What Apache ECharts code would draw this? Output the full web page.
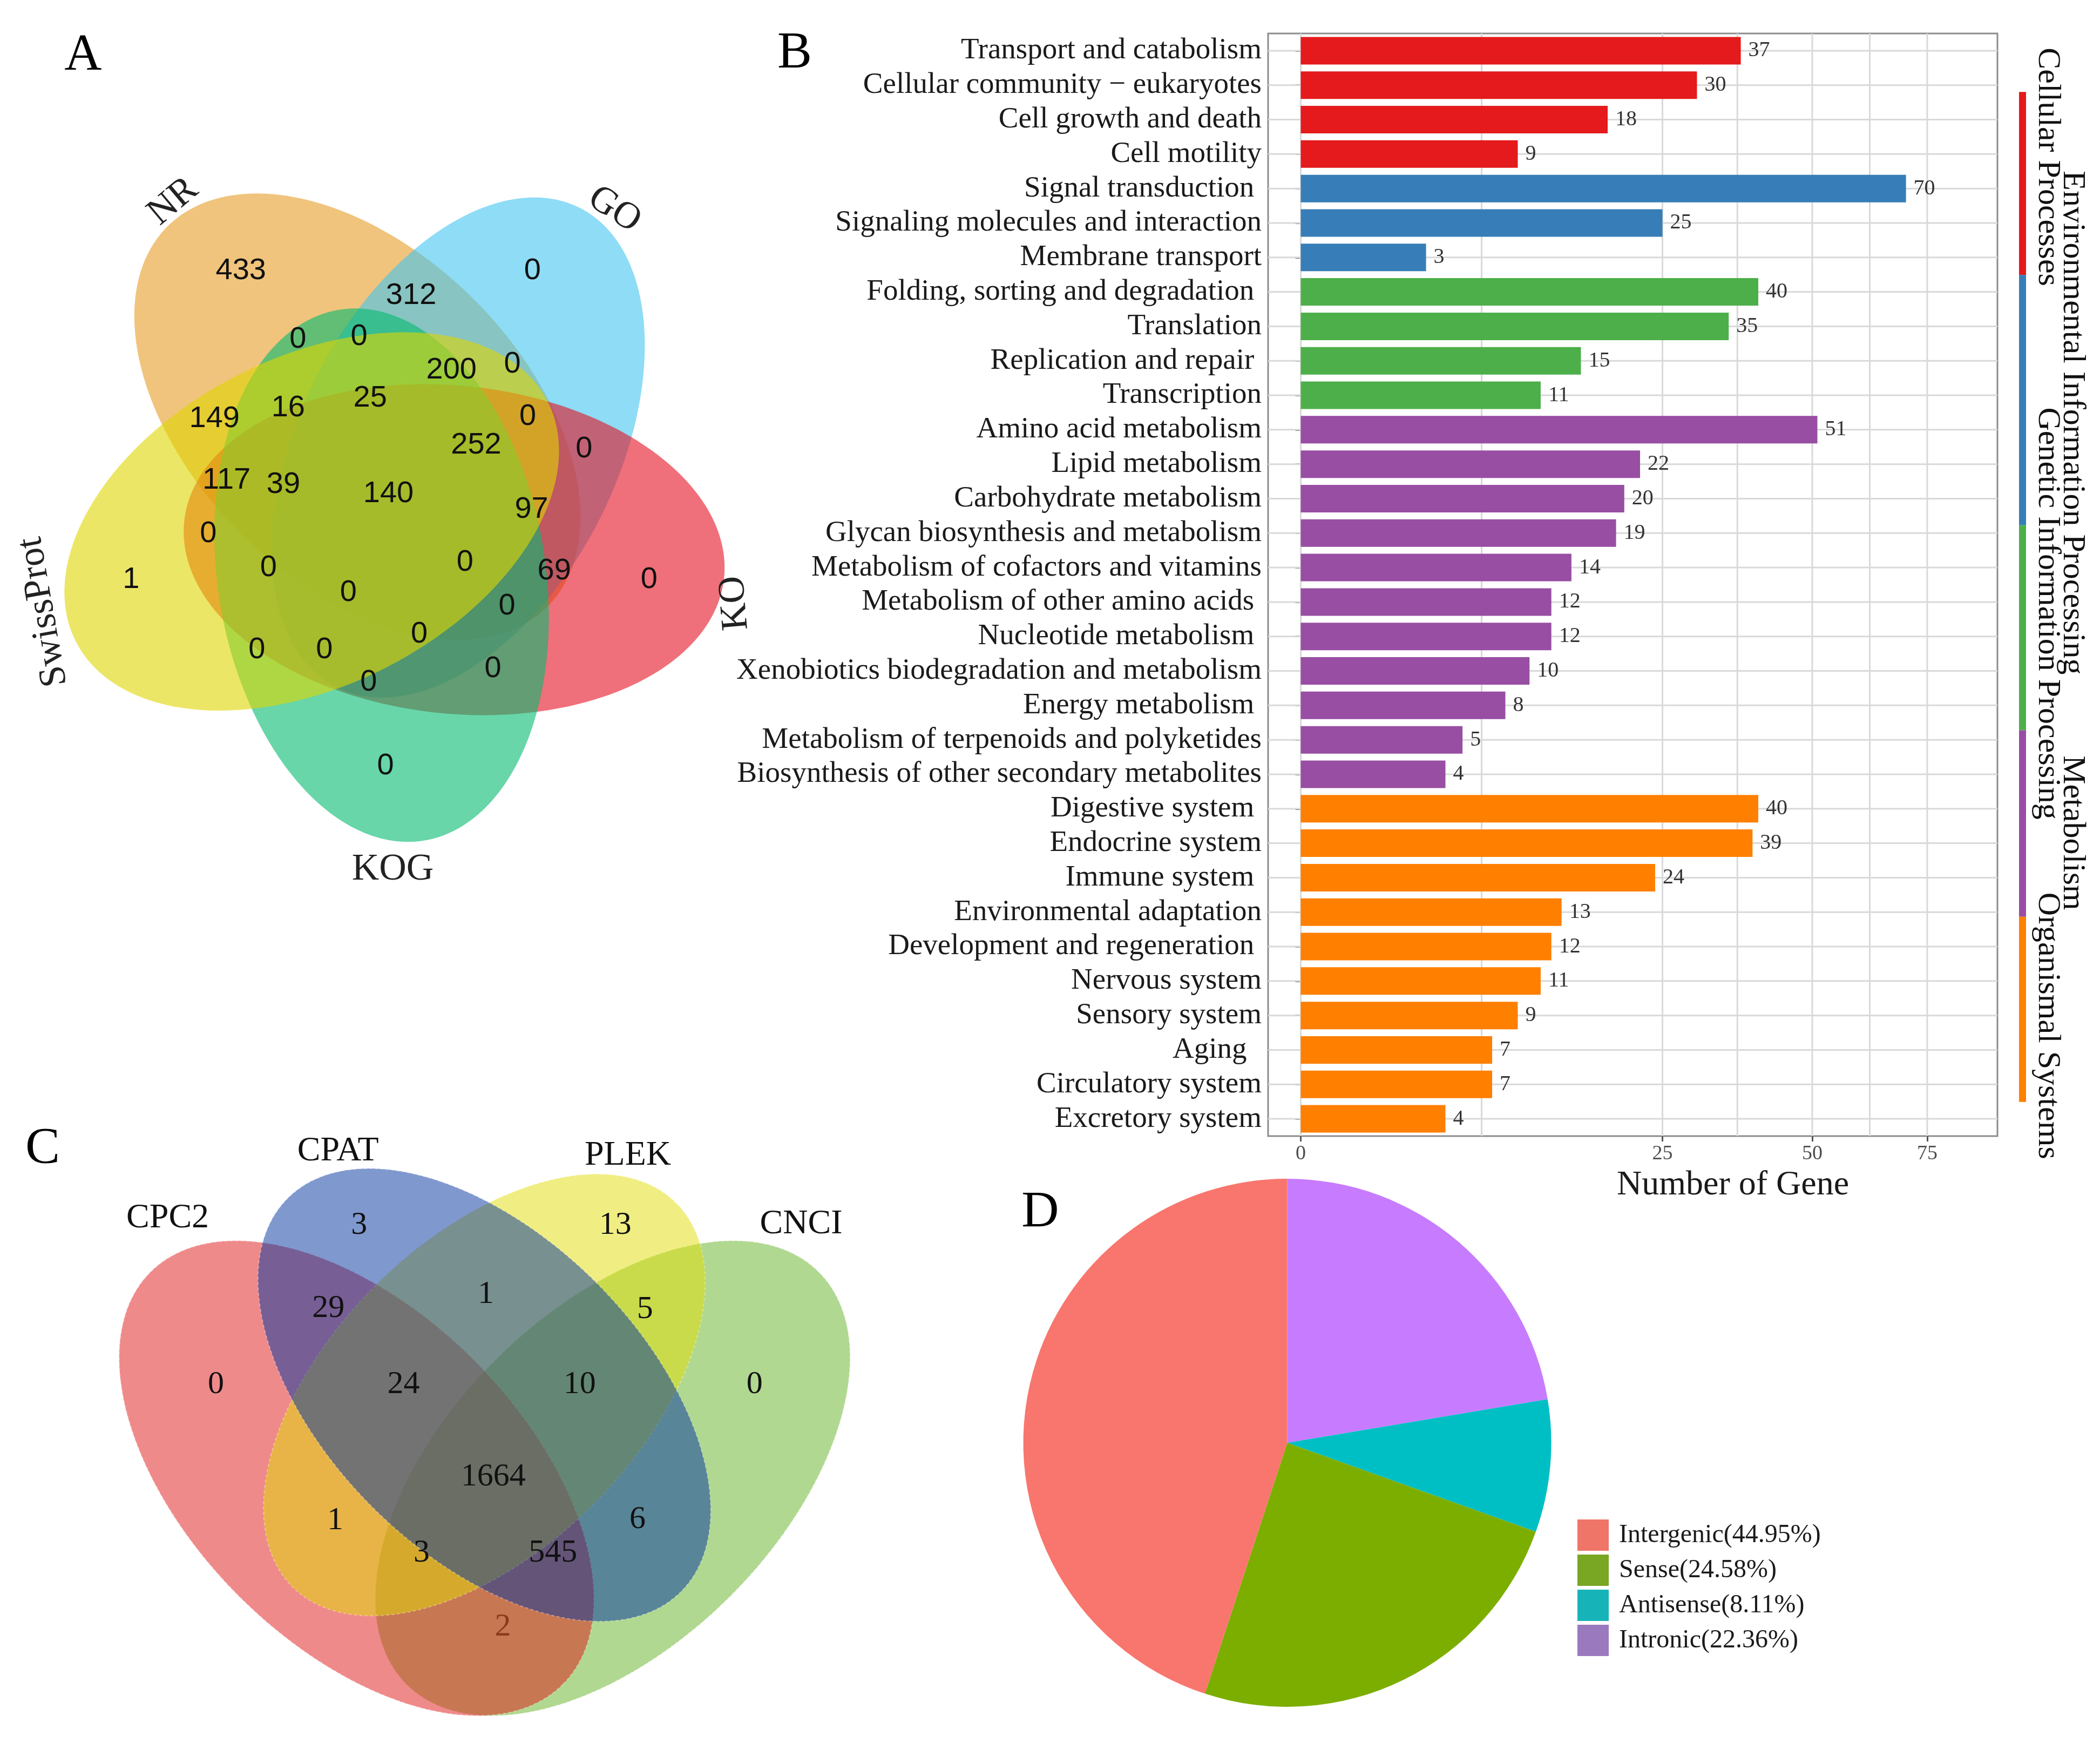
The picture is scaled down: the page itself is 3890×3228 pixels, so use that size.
<!DOCTYPE html>
<html><head><meta charset="utf-8">
<script src="https://cdn.jsdelivr.net/npm/echarts@6/dist/echarts.min.js"></script>
<style>html,body{margin:0;padding:0;background:#fff}#c{width:3890px;height:3228px}</style>
</head><body><div id="c"></div>
<script>
// ================= DATA =================
// Panel B: KEGG pathway classification
const pathways = [
  'Transport and catabolism','Cellular community \u2212 eukaryotes','Cell growth and death','Cell motility',
  'Signal transduction ','Signaling molecules and interaction','Membrane transport',
  'Folding, sorting and degradation ','Translation','Replication and repair ','Transcription',
  'Amino acid metabolism','Lipid metabolism','Carbohydrate metabolism','Glycan biosynthesis and metabolism',
  'Metabolism of cofactors and vitamins','Metabolism of other amino acids ','Nucleotide metabolism ',
  'Xenobiotics biodegradation and metabolism','Energy metabolism ','Metabolism of terpenoids and polyketides',
  'Biosynthesis of other secondary metabolites',
  'Digestive system ','Endocrine system','Immune system ','Environmental adaptation','Development and regeneration ',
  'Nervous system','Sensory system','Aging  ','Circulatory system','Excretory system'
];
const geneCounts = [37,30,18,9, 70,25,3, 40,35,15,11, 51,22,20,19,14,12,12,10,8,5,4, 40,39,24,13,12,11,9,7,7,4];
const pathwayGroup = [0,0,0,0, 1,1,1, 2,2,2,2, 3,3,3,3,3,3,3,3,3,3,3, 4,4,4,4,4,4,4,4,4,4];
const groupNames = ['Cellular Processes','Environmental Information Processing','Genetic Information Processing','Metabolism','Organismal Systems'];
const xTickValues = [0,25,50,75];

// Panel D: lncRNA classification
const pieNames = ['Intergenic','Sense','Antisense','Intronic'];
const piePercent = [44.95,24.58,8.11,22.36];

// Panel A: 5-set Venn (NR, GO, KO, KOG, SwissProt)
const vennASets = ['NR','GO','KO','KOG','SwissProt'];
const vennACounts = [433,312,0,0,0,200,0,149,16,25,0,252,0,117,39,140,97,0,1,0,0,0,69,0,0,0,0,0,0,0,0];

// Panel C: 4-set Venn (CPC2, CPAT, PLEK, CNCI)
const vennCSets = ['CPC2','CPAT','PLEK','CNCI'];
const vennCCounts = [3,13,29,1,5,0,24,10,0,1664,1,6,3,545,2];

// ================= LAYOUT / STYLE =================
const serif = '"Liberation Serif","Times New Roman",serif';
const sans = '"Liberation Sans",Arial,sans-serif';
const groupColors = ['#E41A1C','#377EB8','#4DAF4A','#984EA3','#FF7F00'];
const pieColors = {Intergenic:'#F8766D', Sense:'#7CAE00', Antisense:'#00BFC4', Intronic:'#C77CFF'};
const legendColors = {Intergenic:'#EF7568', Sense:'#79A623', Antisense:'#16B4B8', Intronic:'#9B79BF'};
const pieDrawOrder = ['Intronic','Antisense','Sense','Intergenic'];

// strip annotation (percent of panel height)
const stripBreaks = [5.3, 21.9, 44.6, 63.2, 80.1, 96.9];
const stripTextPos = [12.1, 35.3, 52.6, 72.5, 90.0];
const stripTextCol = [0,1,0,1,0];

// venn geometry in display units (canvas / 2.4888); listed in drawing order
const vennAEllipses = [
  {cx:266, cy:310, a:200, b:123, rot:45,  color:'rgba(230,157,38,0.6)'},   // NR
  {cx:341, cy:333, a:200, b:118, rot:117, color:'rgba(67,197,238,0.6)'},   // GO
  {cx:338, cy:409, a:202, b:122, rot:6,   color:'rgba(228,17,33,0.6)'},    // KO
  {cx:284, cy:428, a:200, b:122, rot:81,  color:'rgba(3,187,110,0.6)'},    // KOG
  {cx:232, cy:388, a:197, b:122, rot:153, color:'rgba(223,213,0,0.6)'}     // SwissProt
];
const vennAPos = [[179.3,201.7],[306,220],[396.3,201.7],[221.7,252.7],[267.2,250.5],[336,275.4],[381.3,271],
  [159.6,311.5],[214.5,303.7],[275.5,296.3],[392.8,310.2],[354.4,331.2],[434.7,334.2],[168.6,357.3],[210.9,360.8],
  [289.1,367.3],[395.6,379.1],[155,397.4],[97.6,431.4],[199.8,422.7],[259.3,441],[346.1,418.3],[412.5,424.8],
  [483.1,431.4],[377.3,451],[312,471.9],[191.2,483.7],[241.4,483.7],[366.9,497.6],[274.4,507.6],[286.9,569.9]];
const vennASetPos = [[129,150,40],[457.3,156,-33],[547,448.8,95],[292.3,647,0],[32.3,455.3,100]];

const vennCEllipses = [
  {cx:456,   cy:1100, a:217, b:124, rot:-45, color:'rgba(97,177,33,0.5)'},   // CNCI
  {cx:265.4, cy:1100, a:217, b:124, rot:45,  color:'rgba(223,21,21,0.5)'},   // CPC2
  {cx:360.5, cy:1038, a:202, b:115, rot:-45, color:'rgba(225,221,5,0.5)'},   // PLEK
  {cx:360.5, cy:1038, a:207, b:118, rot:45,  color:'rgba(0,49,157,0.5)'}     // CPAT
];
const vennCPos = [[267.3,911.7],[458,911.7],[244.4,973.6],[361.6,963.1],[480,974.5],[160.7,1030.4],[300.3,1030.4],
  [431.4,1030.4],[561.6,1030.4],[367.1,1098.9],[249.5,1131.5],[474.5,1130.9],[313.8,1155.6],[411.5,1155.6],[374.3,1210.6]];
const vennCSetPos = [[124.8,906.6],[251.6,856.8],[467.3,859.8],[596.3,911.1]];

// ================= BUILD =================
const xTickPos = xTickValues.map(v => Math.sqrt(v));
const minorPos = [];
for (let i = 0; i < xTickPos.length - 1; i++) minorPos.push((xTickPos[i] + xTickPos[i+1]) / 2);
const gridLines = [];
xTickPos.concat(minorPos).forEach(v => gridLines.push({dir:'v', v}));
pathways.forEach((c, i) => gridLines.push({dir:'h', v:i}));

function ellipseSeries(list, stroke) {
  return {
    type:'custom', coordinateSystem:'cartesian2d', xAxisIndex:2, yAxisIndex:2, silent:true, clip:false, z:5,
    data: list.map(e => [e.cx, e.cy]),
    renderItem: (p, api) => {
      const e = list[p.dataIndex];
      const th = e.rot * Math.PI / 180;
      const pts = [];
      for (let k = 0; k < 240; k++) {
        const t = k / 240 * 2 * Math.PI;
        const u = e.a * Math.cos(t), w = e.b * Math.sin(t);
        pts.push(api.coord([e.cx + u*Math.cos(th) - w*Math.sin(th), e.cy + u*Math.sin(th) + w*Math.cos(th)]));
      }
      const style = {fill:e.color};
      if (stroke) { style.stroke = stroke; style.lineWidth = 2; style.lineDash = [5,5]; }
      return {type:'polygon', shape:{points:pts}, style};
    }
  };
}
function textSeries(items, font, color) {
  return {
    type:'custom', coordinateSystem:'cartesian2d', xAxisIndex:2, yAxisIndex:2, silent:true, clip:false, z:10,
    data: items.map(it => [it.x, it.y]),
    renderItem: (p, api) => {
      const it = items[p.dataIndex];
      const pt = api.coord([it.x, it.y]);
      return {type:'text', x:pt[0], y:pt[1], rotation:(it.rot||0)*Math.PI/180,
        style:{text:String(it.text), font:font, fill:it.fill||color, align:'center', verticalAlign:'middle'}};
    }
  };
}

const vennANumItems = vennACounts.map((c,i) => ({x:vennAPos[i][0], y:vennAPos[i][1], text:c}));
const vennASetItems = vennASets.map((s,i) => ({x:vennASetPos[i][0], y:vennASetPos[i][1], rot:vennASetPos[i][2], text:s}));
const vennCNumItems = vennCCounts.map((c,i) => ({x:vennCPos[i][0], y:vennCPos[i][1], text:c, fill: i===14 ? '#8a3a1c' : null}));
const vennCSetItems = vennCSets.map((s,i) => ({x:vennCSetPos[i][0], y:vennCSetPos[i][1], text:s}));

const pieLabel = n => n + '(' + piePercent[pieNames.indexOf(n)].toFixed(2) + '%)';

const option = {
  animation:false,
  backgroundColor:'#ffffff',
  grid:[
    {left:2349, top:62, width:1351, height:2042, show:true, borderColor:'#8c8c8c', borderWidth:3, backgroundColor:'#ffffff'},
    {left:3740, top:62, width:13, height:2042, show:false},
    {left:0, top:0, width:3890, height:3228, show:false}
  ],
  xAxis:[
    {gridIndex:0, type:'value', min:-0.4515, max:9.6306, axisLine:{show:false}, splitLine:{show:false},
      axisTick:{show:true, customValues:xTickPos, length:10, lineStyle:{color:'#555', width:3}},
      axisLabel:{customValues:xTickPos, formatter:v => String(Math.round(v*v)), fontFamily:serif, fontSize:38, color:'#4d4d4d', margin:14}},
    {gridIndex:1, type:'value', min:0, max:1, show:false},
    {gridIndex:2, type:'value', min:0, max:1563, show:false}
  ],
  yAxis:[
    {gridIndex:0, type:'category', data:pathways, inverse:true, axisLine:{show:false}, splitLine:{show:false},
      axisTick:{show:true, alignWithLabel:true, length:10, lineStyle:{color:'#555', width:3}},
      axisLabel:{interval:0, fontFamily:serif, fontSize:55, color:'#1a1a1a', margin:12}},
    {gridIndex:1, type:'value', min:0, max:100, inverse:true, show:false},
    {gridIndex:2, type:'value', min:0, max:1297, inverse:true, show:false}
  ],
  legend:{
    data: pieNames.map(n => ({name:pieLabel(n), itemStyle:{color:legendColors[n]}})),
    orient:'vertical', left:2917, top:2809, itemWidth:58, itemHeight:58, itemGap:7,
    icon:'rect', selectedMode:false, textStyle:{fontFamily:serif, fontSize:48, color:'#1a1a1a', padding:[0,0,0,14]}
  },
  graphic:[
    {type:'text', x:154, y:104, style:{text:'A', font:'96px '+serif, fill:'#000', align:'center', verticalAlign:'middle'}},
    {type:'text', x:1472, y:100, style:{text:'B', font:'96px '+serif, fill:'#000', align:'center', verticalAlign:'middle'}},
    {type:'text', x:79, y:2129, style:{text:'C', font:'96px '+serif, fill:'#000', align:'center', verticalAlign:'middle'}},
    {type:'text', x:1927, y:2247, style:{text:'D', font:'96px '+serif, fill:'#000', align:'center', verticalAlign:'middle'}},
    {type:'text', x:3210, y:2195, style:{text:'Number of Gene', font:'64px '+serif, fill:'#1a1a1a', align:'center', verticalAlign:'middle'}}
  ],
  series:[
    // gridlines of panel B
    {type:'custom', coordinateSystem:'cartesian2d', xAxisIndex:0, yAxisIndex:0, silent:true, z:1,
      data: gridLines.map(g => g.dir==='v' ? [g.v, 0] : [0, g.v]),
      renderItem:(p, api) => {
        const g = gridLines[p.dataIndex]; const cs = p.coordSys;
        if (g.dir === 'v') {
          const x = api.coord([g.v, 0])[0];
          return {type:'line', shape:{x1:x, y1:cs.y, x2:x, y2:cs.y+cs.height}, style:{stroke:'#d9d9d9', lineWidth:3}};
        }
        const y = api.coord([0, g.v])[1];
        return {type:'line', shape:{x1:cs.x, y1:y, x2:cs.x+cs.width, y2:y}, style:{stroke:'#d9d9d9', lineWidth:3}};
      }},
    // bars (sqrt scale)
    {type:'bar', xAxisIndex:0, yAxisIndex:0, z:3, barWidth:'80%', silent:true,
      data: geneCounts.map((v,i) => ({value:Math.sqrt(v), itemStyle:{color:groupColors[pathwayGroup[i]]}})),
      label:{show:true, position:'right', distance:14, formatter:p => String(geneCounts[p.dataIndex]),
        fontFamily:serif, fontSize:40, color:'#333'}},
    // group strip
    {type:'custom', coordinateSystem:'cartesian2d', xAxisIndex:1, yAxisIndex:1, silent:true, clip:false, z:3,
      data: groupNames.map((g,i) => [0, stripBreaks[i]]),
      renderItem:(p, api) => {
        const i = p.dataIndex;
        const a = api.coord([0, stripBreaks[i]]), b = api.coord([1, stripBreaks[i+1]]);
        const ty = api.coord([0, stripTextPos[i]])[1];
        return {type:'group', children:[
          {type:'rect', shape:{x:a[0], y:a[1], width:b[0]-a[0], height:b[1]-a[1]}, style:{fill:groupColors[i]}},
          {type:'text', x:b[0] + (stripTextCol[i] ? 86 : 40), y:ty, rotation:-Math.PI/2,
            style:{text:groupNames[i], font:'60px '+serif, fill:'#111', align:'center', verticalAlign:'middle'}}
        ]};
      }},
    // pie
    {type:'pie', center:[2384.5, 2672], radius:489, startAngle:90, clockwise:true, silent:true,
      label:{show:false}, labelLine:{show:false}, itemStyle:{borderWidth:0},
      data: pieDrawOrder.map(n => ({name:pieLabel(n), value:piePercent[pieNames.indexOf(n)], itemStyle:{color:pieColors[n]}}))},
    // venns
    ellipseSeries(vennAEllipses, null),
    ellipseSeries(vennCEllipses, 'rgba(255,255,255,0.35)'),
    textSeries(vennANumItems, '56px '+sans, '#111'),
    textSeries(vennASetItems, '70px '+serif, '#222'),
    textSeries(vennCNumItems, '60px '+serif, '#111'),
    textSeries(vennCSetItems, '64px '+serif, '#111')
  ]
};
const chart = echarts.init(document.getElementById('c'), null, {width:3890, height:3228});
chart.setOption(option);
</script>
</body></html>
